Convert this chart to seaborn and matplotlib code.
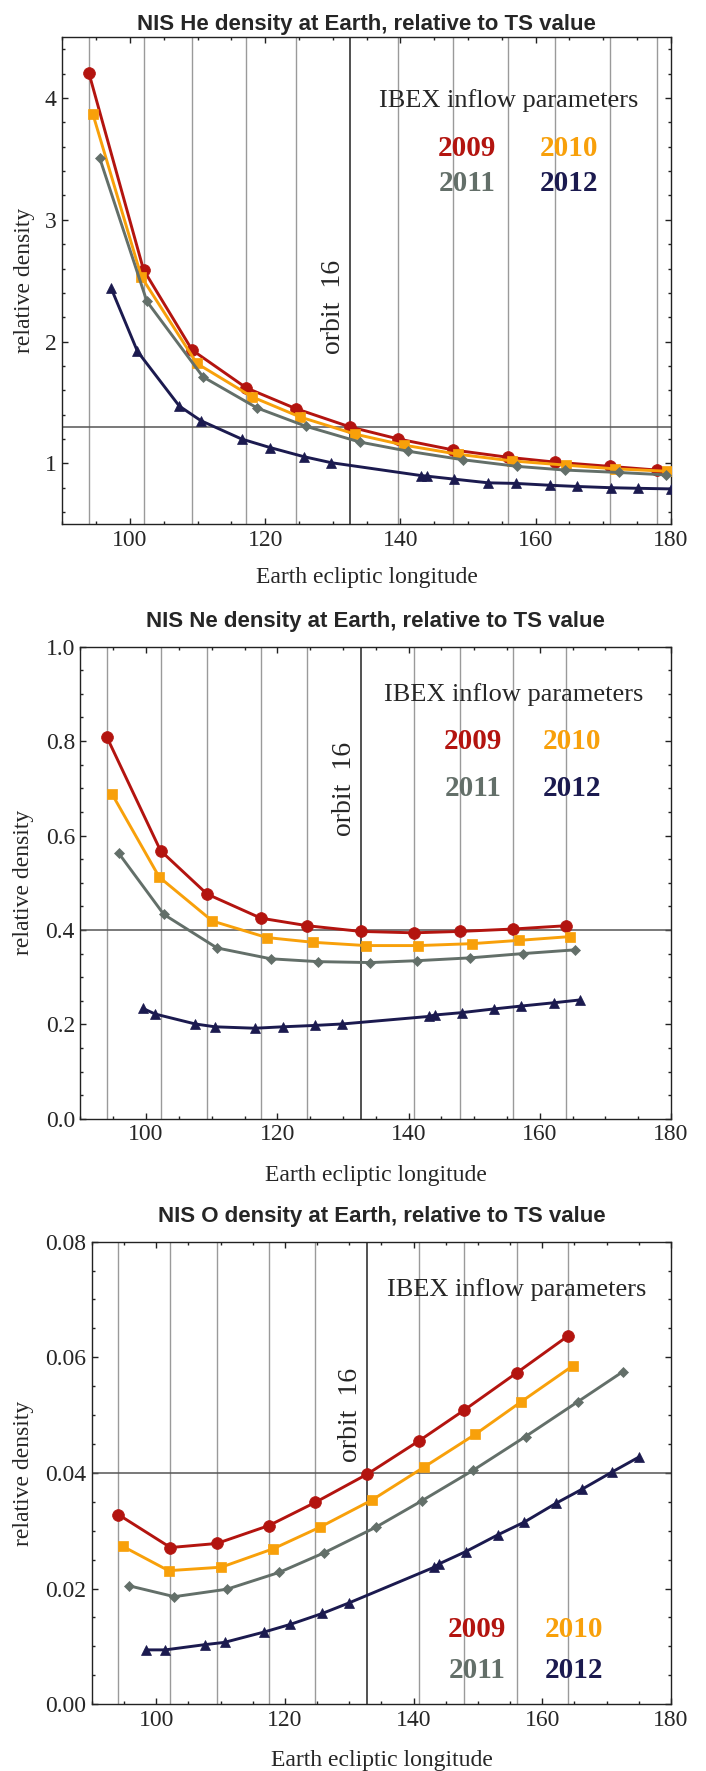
import numpy as np
import pandas as pd
import matplotlib
matplotlib.use("Agg")
import matplotlib.pyplot as plt
import seaborn as sns
from matplotlib.ticker import MultipleLocator

# ---- data ----
years = ["2009", "2010", "2011", "2012"]
colors = {"2009": "#B3140F", "2010": "#F8A00A", "2011": "#636F69", "2012": "#1B1A4F"}
markers = {"2009": "o", "2010": "s", "2011": "D", "2012": "^"}
msizes = {"2009": 8.5, "2010": 7.2, "2011": 5.4, "2012": 7.2}

# He
he_lon09 = [93.9, 102.0, 109.2, 117.2, 124.5, 132.5, 139.7, 147.8, 155.9, 162.9, 171.0, 177.9]
he_09 = [4.21, 2.59, 1.93, 1.62, 1.45, 1.30, 1.20, 1.11, 1.05, 1.01, 0.975, 0.945]
he_lon10 = [94.5, 101.7, 109.9, 118.1, 125.2, 133.3, 140.5, 148.5, 156.5, 164.5, 171.7, 179.5]
he_10 = [3.87, 2.53, 1.82, 1.545, 1.38, 1.24, 1.15, 1.075, 1.02, 0.985, 0.955, 0.935]
he_lon11 = [95.5, 102.5, 110.8, 118.8, 126.0, 134.0, 141.1, 149.2, 157.3, 164.3, 172.3, 179.3]
he_11 = [3.51, 2.33, 1.71, 1.455, 1.305, 1.175, 1.10, 1.03, 0.975, 0.945, 0.925, 0.905]
he_lon12 = [97.2, 101.1, 107.3, 110.5, 116.5, 120.7, 125.7, 129.8, 143.0, 143.9, 148.0,
            153.0, 157.1, 162.1, 166.2, 171.1, 175.1, 180.0]
he_12 = [2.44, 1.92, 1.47, 1.35, 1.20, 1.13, 1.055, 1.005, 0.90, 0.895, 0.87,
         0.84, 0.835, 0.82, 0.81, 0.80, 0.795, 0.79]

# Ne
ne_lon09 = [94.0, 102.2, 109.3, 117.5, 124.6, 132.7, 140.8, 147.9, 155.9, 164.0]
ne_09 = [0.809, 0.568, 0.476, 0.425, 0.409, 0.397, 0.394, 0.397, 0.402, 0.409]
ne_lon10 = [94.8, 102.0, 110.1, 118.4, 125.4, 133.5, 141.5, 149.6, 156.8, 164.6]
ne_10 = [0.688, 0.512, 0.419, 0.384, 0.374, 0.367, 0.367, 0.371, 0.378, 0.386]
ne_lon11 = [95.8, 102.7, 110.8, 119.0, 126.2, 134.2, 141.3, 149.4, 157.4, 165.4]
ne_11 = [0.563, 0.433, 0.362, 0.339, 0.333, 0.331, 0.335, 0.341, 0.350, 0.358]
ne_lon12 = [99.5, 101.4, 107.5, 110.5, 116.6, 120.8, 125.8, 129.9, 143.1, 144.0, 148.1,
            153.1, 157.2, 162.2, 166.2]
ne_12 = [0.234, 0.222, 0.201, 0.195, 0.192, 0.195, 0.198, 0.201, 0.217, 0.220, 0.225,
         0.233, 0.239, 0.246, 0.252]

# O
o_lon09 = [94.1, 102.2, 109.4, 117.5, 124.7, 132.8, 140.9, 147.9, 156.0, 164.0]
o_09 = [0.0328, 0.0271, 0.0278, 0.0309, 0.0349, 0.0398, 0.0456, 0.0509, 0.0573, 0.0637]
o_lon10 = [94.8, 101.9, 110.1, 118.2, 125.4, 133.5, 141.6, 149.6, 156.7, 164.7]
o_10 = [0.0273, 0.0231, 0.0237, 0.0269, 0.0306, 0.0353, 0.0410, 0.0467, 0.0523, 0.0585]
o_lon11 = [95.7, 102.8, 111.0, 119.1, 126.1, 134.1, 141.3, 149.3, 157.4, 165.5, 172.5]
o_11 = [0.0205, 0.0186, 0.0199, 0.0228, 0.0262, 0.0306, 0.0352, 0.0405, 0.0463, 0.0523, 0.0575]
o_lon12 = [98.4, 101.4, 107.5, 110.6, 116.8, 120.8, 125.8, 129.9, 143.2, 144.0, 148.1,
           153.1, 157.2, 162.2, 166.2, 170.9, 175.1]
o_12 = [0.0094, 0.0094, 0.0103, 0.0107, 0.0125, 0.0138, 0.0157, 0.0175, 0.0237, 0.0243, 0.0264,
        0.0293, 0.0315, 0.0348, 0.0372, 0.0402, 0.0428]

titles = ["NIS He density at Earth, relative to TS value",
          "NIS Ne density at Earth, relative to TS value",
          "NIS O density at Earth, relative to TS value"]
ref_levels = [1.3, 0.4, 0.04]
orbit16_index = 5

panels = [
    dict(lons=[he_lon09, he_lon10, he_lon11, he_lon12], vals=[he_09, he_10, he_11, he_12],
         ylim=(0.5, 4.5), ymaj=1, ymin=0.2, yfmt="%d",
         pos=[0.0884, 0.7040, 0.8616, 0.2750], tpad=5, orbit_y=0.446,
         ibex_y=0.871, yr_y=(0.772, 0.700), ylab_x=-0.045, xlab_y=-0.088),
    dict(lons=[ne_lon09, ne_lon10, ne_lon11, ne_lon12], vals=[ne_09, ne_10, ne_11, ne_12],
         ylim=(0.0, 1.0), ymaj=0.2, ymin=0.05, yfmt="%.1f",
         pos=[0.1140, 0.3682, 0.8364, 0.2667], tpad=14, orbit_y=0.699,
         ibex_y=0.898, yr_y=(0.799, 0.700), ylab_x=-0.079, xlab_y=-0.097),
    dict(lons=[o_lon09, o_lon10, o_lon11, o_lon12], vals=[o_09, o_10, o_11, o_12],
         ylim=(0.0, 0.08), ymaj=0.02, ymin=0.005, yfmt="%.2f",
         pos=[0.1303, 0.0377, 0.8201, 0.2612], tpad=14, orbit_y=0.625,
         ibex_y=0.896, yr_y=(0.161, 0.073), ylab_x=-0.1005, xlab_y=-0.100),
]

sns.set_style("ticks")
serif = ["Liberation Serif", "DejaVu Serif"]
plt.rcParams["font.family"] = serif

fig = plt.figure(figsize=(7.06, 17.71), dpi=100)

for i, p in enumerate(panels):
    ax = fig.add_axes(p["pos"])
    orbits = p["lons"][0]
    for k, x in enumerate(orbits):
        if k == orbit16_index:
            ax.axvline(x, color="#333333", lw=1.2, zorder=1)
        else:
            ax.axvline(x, color="#9a9a9a", lw=1.0, zorder=1)
    ax.axhline(ref_levels[i], color="#555555", lw=1.1, zorder=1)

    for yr, lon, val in zip(years, p["lons"], p["vals"]):
        df = pd.DataFrame({"lon": lon, "dens": val})
        sns.lineplot(data=df, x="lon", y="dens", ax=ax, color=colors[yr],
                     marker=markers[yr], markersize=msizes[yr], markeredgecolor=colors[yr],
                     markeredgewidth=0.5, linewidth=2.1, sort=False, estimator=None,
                     zorder=3, clip_on=True)

    ax.set_xlim(90, 180)
    ax.set_ylim(*p["ylim"])
    ax.xaxis.set_major_locator(MultipleLocator(20))
    ax.xaxis.set_minor_locator(MultipleLocator(5))
    ax.yaxis.set_major_locator(MultipleLocator(p["ymaj"]))
    ax.yaxis.set_minor_locator(MultipleLocator(p["ymin"]))
    ax.yaxis.set_major_formatter(matplotlib.ticker.FormatStrFormatter(p["yfmt"]))
    ax.tick_params(which="both", direction="in", top=True, right=True, labelsize=17,
                   width=1.0, color="#222222", labelfontfamily="Liberation Serif")
    ax.tick_params(which="major", length=4.5, pad=4)
    ax.tick_params(which="minor", length=2.5)
    for s in ax.spines.values():
        s.set_linewidth(1.0)
        s.set_color("#222222")

    ax.set_xlabel("Earth ecliptic longitude", fontsize=17)
    ax.set_ylabel("relative density", fontsize=17)
    ax.xaxis.set_label_coords(0.5, p["xlab_y"])
    ax.yaxis.set_label_coords(p["ylab_x"], 0.5)
    ax.set_title(titles[i], fontsize=16, fontweight="bold",
                 family=["Liberation Sans", "DejaVu Sans"], pad=p["tpad"])

    # orbit 16 label
    ax.text(orbits[orbit16_index] - 0.6, p["orbit_y"], "orbit  16", rotation=90,
            transform=ax.get_xaxis_transform(), ha="right", va="center", fontsize=20)
    ax.text(0.733, p["ibex_y"], "IBEX inflow parameters", transform=ax.transAxes,
            ha="center", va="center", fontsize=19)
    for yr, (xf, yf) in zip(years, [(0.665, p["yr_y"][0]), (0.832, p["yr_y"][0]),
                                    (0.665, p["yr_y"][1]), (0.832, p["yr_y"][1])]):
        ax.text(xf, yf, yr, transform=ax.transAxes, ha="center", va="center",
                fontsize=21, fontweight="bold", color=colors[yr])

fig.savefig("out.png", dpi=100)
